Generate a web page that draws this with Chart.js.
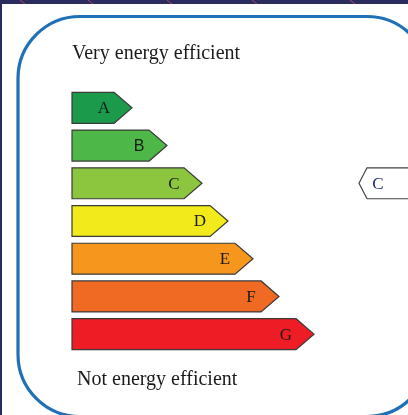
<!DOCTYPE html>
<html>
<head>
<meta charset="utf-8">
<style>
  html, body { margin: 0; padding: 0; background: #ffffff; }
  #wrap { width: 408px; height: 415px; position: relative; overflow: hidden; }
  canvas { display: block; }
</style>
<script src="https://cdn.jsdelivr.net/npm/chart.js@4.4.1/dist/chart.umd.min.js"></script>
</head>
<body>
<div id="wrap"><canvas id="c" width="408" height="415"></canvas></div>
<script>
// ---- data ----
const categories = ['A', 'B', 'C', 'D', 'E', 'F', 'G'];
const barLengths = [60, 95, 130, 156, 181, 207, 242];
const barColors = ['#1b9a4b', '#4db848', '#8cc63f', '#f2ea1b', '#f7961d', '#f06a24', '#ee1d25'];
const currentRating = 'C';
const pointerValue = 287;
const topLabel = 'Very energy efficient';
const bottomLabel = 'Not energy efficient';

const serif = '"Liberation Serif", "Times New Roman", serif';

const framePlugin = {
  id: 'frame',
  beforeDraw(chart) {
    const ctx = chart.ctx;
    const W = chart.width, H = chart.height;
    ctx.save();
    ctx.fillStyle = '#ffffff';
    ctx.fillRect(0, 0, W, H);
    // navy outer strips
    ctx.fillStyle = '#2a2c5e';
    ctx.fillRect(0, 0, W, 4);
    ctx.fillRect(0, 0, 2, H);
    // red diagonal hints in the top strip
    ctx.strokeStyle = '#b04a68';
    ctx.lineWidth = 1;
    [20, 88, 167, 252, 350].forEach(x => {
      ctx.beginPath();
      ctx.moveTo(x, 0);
      ctx.lineTo(x + 5, 4);
      ctx.stroke();
    });
    // blue rounded frame
    ctx.strokeStyle = '#1f70b7';
    ctx.lineWidth = 3.2;
    ctx.beginPath();
    ctx.roundRect(18, 16.5, 411, 400, 62);
    ctx.stroke();
    // captions
    ctx.fillStyle = '#1a1a1a';
    ctx.font = '20px ' + serif;
    ctx.textAlign = 'left';
    ctx.textBaseline = 'alphabetic';
    ctx.fillText(topLabel, 72, 59);
    ctx.fillText(bottomLabel, 77, 385);
    ctx.restore();
  },
  afterDatasetsDraw(chart) {
    const ctx = chart.ctx;
    const meta = chart.getDatasetMeta(0);
    ctx.save();
    meta.data.forEach((bar, i) => {
      const h = bar.height;
      const top = bar.y - h / 2, bottom = bar.y + h / 2;
      const tip = h * 0.58;
      ctx.beginPath();
      ctx.moveTo(bar.base, top);
      ctx.lineTo(bar.x - tip, top);
      ctx.lineTo(bar.x, bar.y);
      ctx.lineTo(bar.x - tip, bottom);
      ctx.lineTo(bar.base, bottom);
      ctx.closePath();
      ctx.fillStyle = barColors[i];
      ctx.fill();
      ctx.strokeStyle = '#3a3a3a';
      ctx.lineWidth = 1.2;
      ctx.stroke();
      // letter
      const letter = categories[i];
      ctx.fillStyle = '#1a1a1a';
      ctx.font = (letter === 'B' ? '16px "Liberation Sans", Arial, sans-serif' : '17px ' + serif);
      ctx.textAlign = 'center';
      ctx.textBaseline = 'middle';
      ctx.fillText(letter, bar.x - 28, bar.y + 1);
    });
    // current rating pointer
    const yScale = chart.scales.y, xScale = chart.scales.x;
    const idx = categories.indexOf(currentRating);
    const ref = meta.data[idx];
    const cy = yScale.getPixelForValue(idx);
    const h = ref.height;
    const tx = xScale.getPixelForValue(pointerValue);
    ctx.beginPath();
    ctx.moveTo(chart.width + 10, cy - h / 2);
    ctx.lineTo(tx + 8, cy - h / 2);
    ctx.lineTo(tx, cy);
    ctx.lineTo(tx + 8, cy + h / 2);
    ctx.lineTo(chart.width + 10, cy + h / 2);
    ctx.fillStyle = '#ffffff';
    ctx.fill();
    ctx.strokeStyle = '#444444';
    ctx.lineWidth = 1.2;
    ctx.stroke();
    ctx.fillStyle = '#1c2a66';
    ctx.font = '17px ' + serif;
    ctx.textAlign = 'center';
    ctx.textBaseline = 'middle';
    ctx.fillText(currentRating, tx + 19, cy + 1);
    ctx.restore();
  }
};

new Chart(document.getElementById('c'), {
  type: 'bar',
  data: {
    labels: categories,
    datasets: [{
      data: barLengths,
      backgroundColor: 'rgba(0,0,0,0)',
      borderWidth: 0,
      categoryPercentage: 1,
      barPercentage: 0.82
    }]
  },
  options: {
    indexAxis: 'y',
    responsive: false,
    animation: false,
    devicePixelRatio: 1,
    layout: { padding: { left: 72, right: 0, top: 89, bottom: 62 } },
    scales: {
      x: { display: false, min: 0, max: 336 },
      y: { display: false }
    },
    plugins: {
      legend: { display: false },
      tooltip: { enabled: false }
    }
  },
  plugins: [framePlugin]
});
</script>
</body>
</html>
